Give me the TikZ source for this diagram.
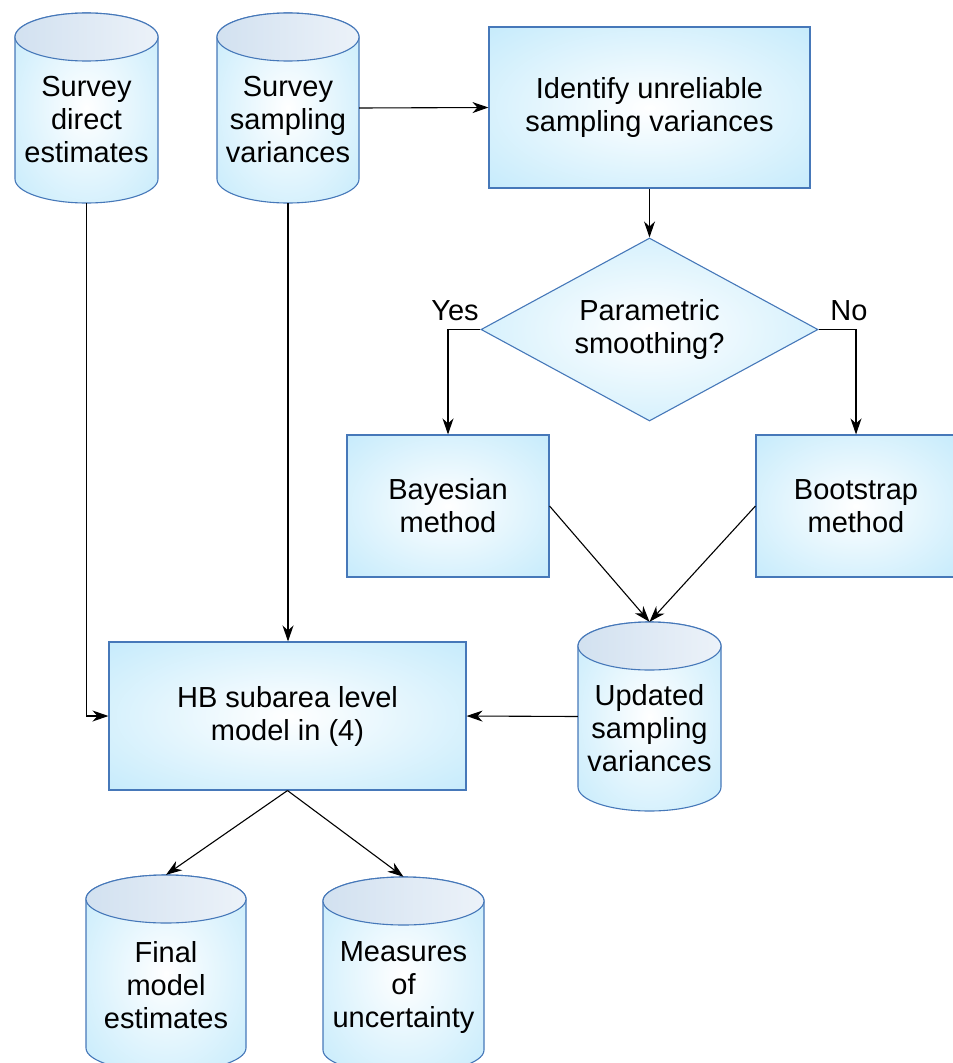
\documentclass[tikz,border=0pt]{standalone}
\usepackage{fontspec}
\setmainfont{Liberation Sans}
\usetikzlibrary{shapes.geometric,arrows.meta}

\definecolor{boxblue}{RGB}{178,228,250}
\definecolor{edgeblue}{RGB}{70,120,185}
\definecolor{capleft}{RGB}{210,225,240}
\definecolor{capright}{RGB}{236,242,249}
\pgfdeclareradialshading{glow}{\pgfpoint{0bp}{0bp}}{color(0bp)=(white); color(48bp)=(boxblue); color(75bp)=(boxblue)}

\newcommand{\bigtext}{\fontsize{29}{33}\selectfont}

\tikzset{
  proc/.style={rectangle, draw=edgeblue, line width=1.1pt, shade, shading=glow, align=center, inner sep=0pt, font=\bigtext},
  decide/.style={diamond, aspect=1.84, draw=edgeblue, line width=1.1pt, shade, shading=glow, align=center, inner sep=0pt, font=\bigtext},
  cylframe/.style={rectangle, inner sep=0pt},
  cyltext/.style={align=center, inner sep=0pt, font=\bigtext},
  flow/.style={-{Stealth[length=16pt,width=11pt,inset=5pt]}, line width=1.1pt, black},
  lbl/.style={font=\bigtext, inner sep=2pt}
}

% name, centre x, top y, width, height, text
\newcommand{\datacyl}[6]{%
  \path[draw=edgeblue, line width=1.1pt, shade, shading=glow]
    (#2-#4/2,-#3-24) -- (#2-#4/2,-#3-#5+24)
    arc[start angle=180, end angle=360, x radius=#4/2, y radius=24]
    -- (#2+#4/2,-#3-24)
    arc[start angle=0, end angle=180, x radius=#4/2, y radius=24] -- cycle;
  \path[draw=edgeblue, line width=1.1pt, left color=capleft, right color=capright]
    (#2,-#3-24) ellipse[x radius=#4/2, y radius=24];
  \node[cylframe, minimum width=#4pt, minimum height=#5pt] (#1) at (#2,-#3-#5/2) {};
  \node[cyltext] (#1-txt) at (#2,-#3-#5/2-12) {#6};
}

\begin{document}
\begin{tikzpicture}[x=1pt,y=1pt]
    \clip (0,0) rectangle (953,-1063);

    % data stores
    \datacyl{sde}{86.5}{13}{143}{190}{Survey\\direct\\estimates}
    \datacyl{ssv}{288}{13}{142}{190}{Survey\\sampling\\variances}
    \datacyl{usv}{649.5}{622}{143}{189}{Updated\\sampling\\variances}
    \datacyl{fme}{166}{875}{160}{197}{Final\\model\\estimates}
    \datacyl{mou}{403.5}{877}{161}{197}{Measures\\of\\uncertainty}

    % steps
    \node[proc, minimum width=321pt, minimum height=161pt] (ident) at (649.5,-107.5) {Identify unreliable\\sampling variances};
    \node[decide, minimum width=337pt, minimum height=183pt] (smooth) at (649.5,-329.5) {Parametric\\smoothing?};
    \node[proc, minimum width=202pt, minimum height=142pt] (bayes) at (448,-506) {Bayesian\\method};
    \node[proc, minimum width=200pt, minimum height=142pt] (boot) at (856,-506) {Bootstrap\\method};
    \node[proc, minimum width=357pt, minimum height=148pt] (hb) at (287.5,-716) {HB subarea level\\model in (4)};

    % connectors
    \draw[flow] (ssv.east) -- (ident.west);
    \draw[flow] (ident.south) -- (smooth.north);
    \draw[flow] (smooth.west) -| (bayes.north) node[lbl, pos=0.5, above, xshift=7pt, yshift=6pt] {Yes};
    \draw[flow] (smooth.east) -| (boot.north) node[lbl, pos=0.5, above, xshift=-7pt, yshift=6pt] {No};
    \draw[flow] (bayes.east) -- (usv.north);
    \draw[flow] (boot.west) -- (usv.north);
    \draw[flow] (usv.west) -- (hb.east);
    \draw[flow] (sde.south) |- (hb.west);
    \draw[flow] (ssv.south) -- (ssv.south |- hb.north);
    \draw[flow] (hb.south) -- (fme.north);
    \draw[flow] (hb.south) -- (mou.north);
\end{tikzpicture}
\end{document}
